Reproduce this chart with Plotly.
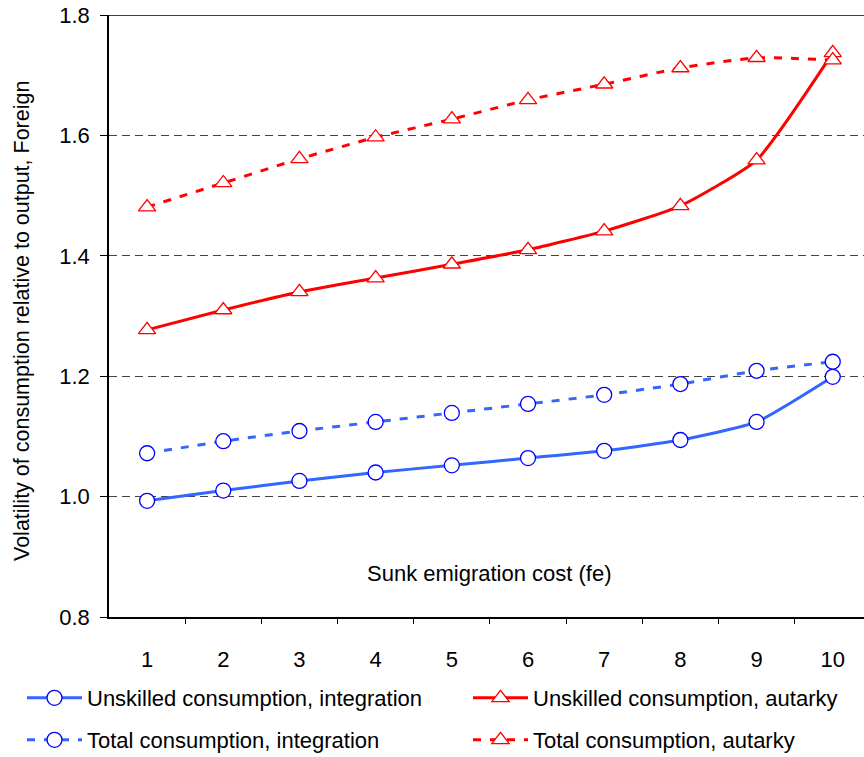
import plotly.graph_objects as go

fe = [1, 2, 3, 4, 5, 6, 7, 8, 9, 10]
unskilled_integration = [0.993, 1.010, 1.026, 1.040, 1.052, 1.064, 1.076, 1.094, 1.124, 1.199]
total_integration = [1.072, 1.092, 1.109, 1.124, 1.139, 1.154, 1.169, 1.187, 1.209, 1.224]
unskilled_autarky = [1.277, 1.310, 1.340, 1.363, 1.386, 1.410, 1.441, 1.483, 1.559, 1.737]
total_autarky = [1.481, 1.521, 1.561, 1.597, 1.627, 1.659, 1.685, 1.712, 1.729, 1.725]

BLUE_LINE = "#3366FF"
BLUE_MARK = "#0000FF"
RED = "#FF0000"
FONT = "Liberation Sans, Arial, sans-serif"
W, H = 864, 757
L, T, B = 109, 15, 140

fig = go.Figure()

def add(name, y, color, mcolor, symbol, size, dash, legend):
    fig.add_trace(go.Scatter(
        x=fe, y=y, name=name, mode="lines+markers",
        line=dict(color=color, width=3, dash=dash, shape="spline", smoothing=0.5),
        marker=dict(symbol=symbol, size=size, color="white",
                    line=dict(color=mcolor, width=1.3)),
        legend=legend,
    ))

add("Unskilled consumption, integration", unskilled_integration, BLUE_LINE, BLUE_MARK,
    "circle", 15, "solid", "legend")
add("Unskilled consumption, autarky", unskilled_autarky, RED, RED,
    "triangle-up", 15, "solid", "legend2")
add("Total consumption, integration", total_integration, BLUE_LINE, BLUE_MARK,
    "circle", 15, "8px,9px", "legend3")
add("Total consumption, autarky", total_autarky, RED, RED,
    "triangle-up", 15, "8px,9px", "legend4")

xr = [0.5, 10.41]
plot_w = W - L

def leg(xpx, ypx):
    return dict(orientation="h", xref="container", yref="container",
                x=xpx / W, y=(H - ypx) / H, xanchor="left", yanchor="middle",
                font=dict(size=22), bgcolor="rgba(0,0,0,0)", itemwidth=55)

fig.update_layout(
    width=W, height=H,
    margin=dict(l=L, r=0, t=T, b=B, autoexpand=False),
    paper_bgcolor="white", plot_bgcolor="white",
    font=dict(family=FONT, size=22, color="black"),
    xaxis=dict(range=xr, tickmode="array", tickvals=fe, ticktext=[str(v) for v in fe],
               ticks="", showgrid=False, zeroline=False, showline=True,
               linecolor="black", linewidth=1.5, ticklabelstandoff=22,
               tickfont=dict(size=22)),
    xaxis2=dict(range=xr, overlaying="x", side="bottom", tickmode="array",
                tickvals=[v + 0.5 for v in fe], ticks="outside", ticklen=6,
                tickcolor="black", tickwidth=1, showticklabels=False,
                showgrid=False, zeroline=False, showline=False),
    yaxis=dict(range=[0.8, 1.8], tickmode="array",
               tickvals=[0.8, 1.0, 1.2, 1.4, 1.6, 1.8],
               ticktext=["0.8", "1.0", "1.2", "1.4", "1.6", "1.8"],
               ticks="outside", ticklen=7, tickcolor="black",
               showline=True, linecolor="black", linewidth=1.5,
               showgrid=True, gridcolor="#444444", gridwidth=1, griddash="8px,5px",
               zeroline=False, ticklabelstandoff=6,
               tickfont=dict(size=22)),
    legend=leg(22, 698),
    legend2=leg(468, 698),
    legend3=leg(22, 740),
    legend4=leg(468, 740),
)
fig.add_annotation(text="Volatility of consumption relative to output, Foreign",
                   xref="paper", yref="paper", x=(22 - L) / plot_w,
                   y=(H - B - 321) / (H - B - T), textangle=-90,
                   showarrow=False, font=dict(size=21.5), xanchor="center", yanchor="middle")
fig.add_annotation(text="Sunk emigration cost (fe)", x=5.5, y=0.873, xref="x", yref="y",
                   showarrow=False, font=dict(size=22))
fig.add_shape(type="line", xref="paper", yref="y", x0=0, x1=1, y0=1.8, y1=1.8,
              line=dict(color="black", width=1.5))
fig.add_trace(go.Scatter(x=[None], y=[None], xaxis="x2", showlegend=False))

fig.write_html("out.html", config={"displayModeBar": False},
               post_script="document.body.style.margin='0px';")
